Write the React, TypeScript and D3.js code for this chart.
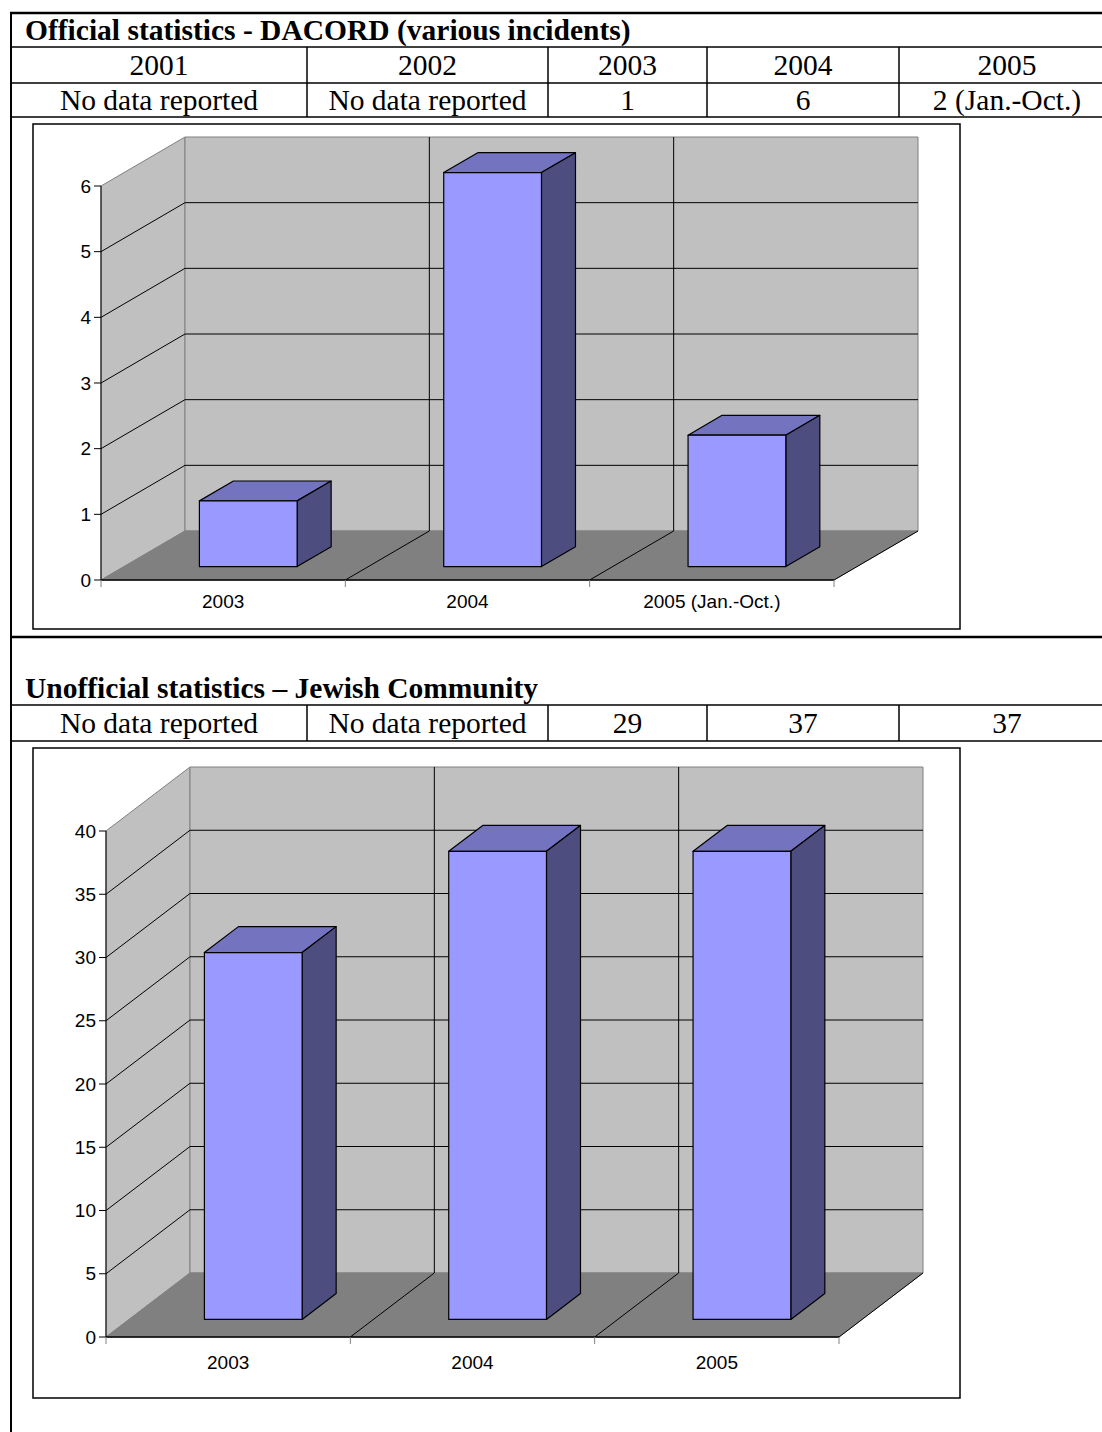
import React from 'react'
import * as d3 from 'd3'

// table rows
const years = ['2001', '2002', '2003', '2004', '2005']
const officialRow = ['No data reported', 'No data reported', '1', '6', '2 (Jan.-Oct.)']
const unofficialRow = ['No data reported', 'No data reported', '29', '37', '37']

// chart data
const officialCats = ['2003', '2004', '2005 (Jan.-Oct.)']
const officialVals = [1, 6, 2]
const officialTicks = [0, 1, 2, 3, 4, 5, 6]

const unofficialCats = ['2003', '2004', '2005']
const unofficialVals = [29, 37, 37]
const unofficialTicks = [0, 5, 10, 15, 20, 25, 30, 35, 40]

const colEdges = [11, 307, 548, 707, 899, 1115]
const serif = '"Liberation Serif", "Times New Roman", serif'
const sans = '"Liberation Sans", Arial, sans-serif'

type ChartProps = {
  frame: [number, number, number, number]
  x0: number
  base: number
  width: number
  height: number
  dx: number
  dy: number
  labelOffset: number
  cats: string[]
  vals: number[]
  ticks: number[]
}

const Bar3D = ({ frame, x0, base, width, height, dx, dy, labelOffset, cats, vals, ticks }: ChartProps) => {
  const max = ticks[ticks.length - 1]
  const y = d3.scaleLinear().domain([0, max]).range([0, height])
  const x = d3.scaleBand().domain(cats).range([2, width + 2]).paddingInner(0.6).paddingOuter(0.3)
  const step = width / cats.length

  // project (x offset, value, depth fraction) to screen
  const p = (xv: number, v: number, f: number): [number, number] => [x0 + xv + dx * f, base - y(v) - dy * f]
  const poly = (pts: [number, number][]) => pts.map(q => q.join(',')).join(' ')

  const f1 = 0.275
  const f2 = 0.68

  return (
    <g>
      <rect x={frame[0]} y={frame[1]} width={frame[2]} height={frame[3]} fill="#fff" stroke="#000" strokeWidth={1.5} />
      {/* walls */}
      <polygon points={poly([p(0, 0, 0), p(0, 0, 1), p(0, max, 1), p(0, max, 0)])} fill="#c0c0c0" stroke="#808080" />
      <polygon points={poly([p(0, 0, 1), p(width, 0, 1), p(width, max, 1), p(0, max, 1)])} fill="#c0c0c0" stroke="#808080" />
      <polygon points={poly([p(0, 0, 0), p(width, 0, 0), p(width, 0, 1), p(0, 0, 1)])} fill="#808080" stroke="#808080" />
      {/* gridlines */}
      {ticks.filter(t => t > 0 && t < max).map(t => (
        <polyline key={t} points={poly([p(0, t, 0), p(0, t, 1), p(width, t, 1)])} fill="none" stroke="#000" strokeWidth={1} />
      ))}
      {d3.range(1, cats.length).map(i => (
        <polyline key={i} points={poly([p(step * i, 0, 0), p(step * i, 0, 1), p(step * i, max, 1)])} fill="none" stroke="#000" strokeWidth={1} />
      ))}
      <line x1={p(width, 0, 0)[0]} y1={p(width, 0, 0)[1]} x2={p(width, 0, 1)[0]} y2={p(width, 0, 1)[1]} stroke="#000" />
      {/* bars */}
      {cats.map((c, i) => {
        const a = x(c) as number
        const b = a + x.bandwidth()
        const v = vals[i]
        return (
          <g key={c} stroke="#000" strokeWidth={1.2} strokeLinejoin="round">
            <polygon points={poly([p(a, v, f1), p(b, v, f1), p(b, v, f2), p(a, v, f2)])} fill="#7373bf" />
            <polygon points={poly([p(b, 0, f1), p(b, 0, f2), p(b, v, f2), p(b, v, f1)])} fill="#4d4d80" />
            <polygon points={poly([p(a, 0, f1), p(b, 0, f1), p(b, v, f1), p(a, v, f1)])} fill="#9999ff" />
          </g>
        )
      })}
      {/* axes */}
      <line x1={x0} y1={base} x2={x0} y2={base - height} stroke="#000" />
      <line x1={x0} y1={base} x2={x0 + width} y2={base} stroke="#000" strokeWidth={1.5} />
      {ticks.map(t => (
        <g key={t}>
          <line x1={x0 - 7} x2={x0} y1={base - y(t)} y2={base - y(t)} stroke="#000" />
          <text x={x0 - 10} y={base - y(t)} dy="0.35em" textAnchor="end" fontFamily={sans} fontSize={19}>{t}</text>
        </g>
      ))}
      {d3.range(0, cats.length + 1).map(i => (
        <line key={i} x1={x0 + step * i} x2={x0 + step * i} y1={base} y2={base + 7} stroke="#808080" />
      ))}
      {cats.map((c, i) => (
        <text key={c} x={x0 + step * (i + 0.5)} y={base + labelOffset} textAnchor="middle" fontFamily={sans} fontSize={19}>{c}</text>
      ))}
    </g>
  )
}

const Row = ({ cells, y1, y2 }: { cells: string[]; y1: number; y2: number }) => (
  <g>
    {colEdges.slice(1, -1).map(e => (
      <line key={e} x1={e} x2={e} y1={y1} y2={y2} stroke="#000" strokeWidth={1.5} />
    ))}
    {cells.map((c, i) => (
      <text key={i} x={(colEdges[i] + colEdges[i + 1]) / 2} y={(y1 + y2) / 2 + 9.5} textAnchor="middle" fontFamily={serif} fontSize={29.5}>{c}</text>
    ))}
  </g>
)

const App = () => {
  return (
    <svg width={1102} height={1432} style={{ position: 'absolute', left: 0, top: 0 }}>
      <rect width={1102} height={1432} fill="#fff" />
      {/* table frame */}
      <line x1={11} x2={11} y1={13} y2={1432} stroke="#000" strokeWidth={2} />
      {[13, 47, 83, 117, 637, 705, 741].map(v => (
        <line key={v} x1={10} x2={1102} y1={v} y2={v} stroke="#000" strokeWidth={v === 13 || v === 637 ? 2.5 : 1.5} />
      ))}
      <text x={25} y={40} fontFamily={serif} fontWeight="bold" fontSize={29.5}>Official statistics - DACORD (various incidents)</text>
      <Row cells={years} y1={47} y2={83} />
      <Row cells={officialRow} y1={83} y2={117} />
      <text x={25} y={698} fontFamily={serif} fontWeight="bold" fontSize={29.5}>Unofficial statistics – Jewish Community</text>
      <Row cells={unofficialRow} y1={705} y2={741} />

      <Bar3D frame={[33, 124, 927, 505]} x0={101} base={580} width={733} height={394} dx={84} dy={49} labelOffset={28}
        cats={officialCats} vals={officialVals} ticks={officialTicks} />
      <Bar3D frame={[33, 748, 927, 650]} x0={106} base={1337} width={733} height={506} dx={84} dy={64} labelOffset={32}
        cats={unofficialCats} vals={unofficialVals} ticks={unofficialTicks} />
    </svg>
  )
}

export default App
